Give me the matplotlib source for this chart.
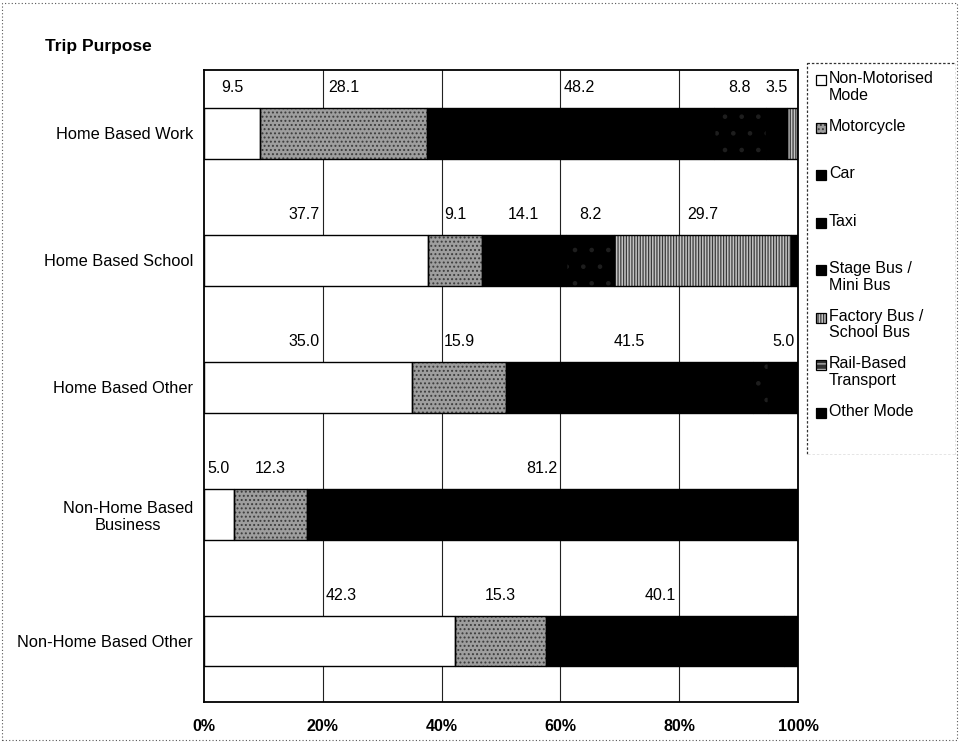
import matplotlib.pyplot as plt
import numpy as np
from matplotlib.patches import Rectangle

plt.rcParams["font.family"] = ["Liberation Sans", "DejaVu Sans"]
plt.rcParams["hatch.linewidth"] = 0.9

purposes = [
    "Home Based Work",
    "Home Based School",
    "Home Based Other",
    "Non-Home Based\nBusiness",
    "Non-Home Based Other",
]
modes = [
    "Non-Motorised\nMode",
    "Motorcycle",
    "Car",
    "Taxi",
    "Stage Bus /\nMini Bus",
    "Factory Bus /\nSchool Bus",
    "Rail-Based\nTransport",
    "Other Mode",
]

# mode share (%) per trip purpose, one list per mode
non_motorised = [9.5, 37.7, 35.0, 5.0, 42.3]
motorcycle = [28.1, 9.1, 15.9, 12.3, 15.3]
car = [48.2, 14.1, 41.5, 81.2, 40.1]
taxi = [8.8, 8.2, 2.6, 0.0, 0.0]
stage_bus = [3.5, 0.0, 5.0, 0.0, 0.0]
factory_bus = [1.9, 29.7, 0.0, 0.0, 0.0]
rail_based = [0.0, 0.0, 0.0, 0.0, 0.0]
other_mode = [0.0, 1.2, 0.0, 1.5, 2.3]

series = [non_motorised, motorcycle, car, taxi, stage_bus, factory_bus, rail_based, other_mode]
gridlines = [20, 40, 60, 80]

# (face, hatch, hatch colour) for each mode
styles = [
    ("white", None, "black"),
    ("#9e9e9e", "....", "#3c3c3c"),
    ("black", None, "black"),
    ("#000000", ".", "#1e1e1e"),
    ("black", None, "black"),
    ("#c4c4c4", "||||||", "#3a3a3a"),
    ("#303030", "---", "#bdbdbd"),
    ("black", None, "black"),
]


def label_x(center, half_w=2.6, gap=0.5):
    """Keep a value label off the gridlines: slide it to the side its centre is on."""
    for g in gridlines:
        if center - half_w < g < center + half_w:
            if center < g:
                return g - gap, "right"
            return g + gap, "left"
    return center, "center"


fig = plt.figure(figsize=(9.6, 7.42), dpi=100)
ax = fig.add_axes([204 / 960, 40 / 742, 594 / 960, 632 / 742])

y = np.arange(len(purposes))
bar_h = 0.4
for xg in gridlines:
    ax.axvline(xg, color="#222222", lw=0.8, zorder=0)

left = np.zeros(len(purposes))
for vals, (face, hatch, hcol) in zip(series, styles):
    vals = np.array(vals)
    ax.barh(y, vals, left=left, height=bar_h, color=face, hatch=hatch,
            edgecolor=hcol, linewidth=0, zorder=2)
    ax.barh(y, vals, left=left, height=bar_h, fill=False,
            edgecolor="black", linewidth=1.0, zorder=3)
    for yi, v, l in zip(y, vals, left):
        if v >= 3:
            tx, ha = label_x(l + v / 2)
            ax.text(tx, yi - 0.36, f"{v:.1f}", ha=ha, va="center",
                    fontsize=11.5, zorder=4)
    left += vals

ax.set_xlim(0, 100)
ax.set_ylim(4.48, -0.5)
ax.set_xticks([0, 20, 40, 60, 80, 100])
ax.set_xticklabels(["0%", "20%", "40%", "60%", "80%", "100%"], fontsize=11.5, fontweight="bold")
ax.set_yticks(y)
ax.set_yticklabels(purposes, fontsize=11.8)
for lab in ax.get_yticklabels():
    lab.set_multialignment("center")
ax.tick_params(axis="both", length=0)
ax.tick_params(axis="y", pad=8)
ax.tick_params(axis="x", pad=12)
for sp in ax.spines.values():
    sp.set_linewidth(1.3)
    sp.set_color("black")

fig.text(45 / 960, 1 - 46 / 742, "Trip Purpose", fontsize=12.5, fontweight="bold",
         ha="left", va="center")

# legend box drawn by hand so entries keep an even spacing
lg = fig.add_axes([806 / 960, 1 - 455 / 742, 150 / 960, 393 / 742])
lg.set_xlim(0, 150)
lg.set_ylim(393, 0)
lg.axis("off")
lg.add_patch(Rectangle((0.5, 0.5), 149, 392, fill=False, edgecolor="#333333",
                       lw=0.9, ls=(0, (2, 1.5))))
for i, (name, (face, hatch, hcol)) in enumerate(zip(modes, styles)):
    ty = 18 + 47.5 * i
    lg.add_patch(Rectangle((10, ty - 5), 10, 10, facecolor=face, hatch=hatch,
                           edgecolor=hcol, lw=0))
    lg.add_patch(Rectangle((10, ty - 5), 10, 10, fill=False, edgecolor="black", lw=0.9))
    lg.text(23, ty - 9, name, fontsize=11.5, ha="left", va="top", linespacing=1.15)

# dotted outline around the whole chart
fig.add_artist(Rectangle((2 / 960, 2 / 742), 955 / 960, 737 / 742, fill=False,
                         transform=fig.transFigure, edgecolor="#555555", lw=0.8,
                         ls=(0, (1, 2))))

fig.savefig("out.png", dpi=100)
